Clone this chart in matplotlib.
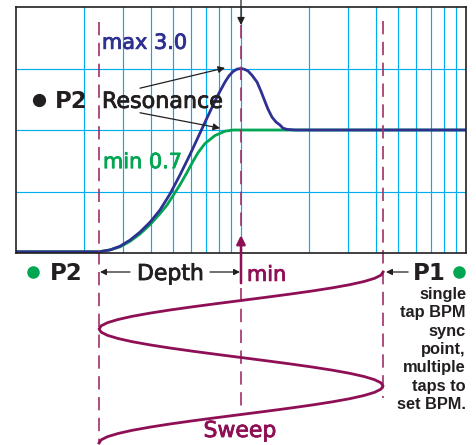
import matplotlib
matplotlib.use("Agg")
import matplotlib.pyplot as plt
import matplotlib.patheffects as pe
from matplotlib.ticker import NullLocator

# ---------------- data ----------------
# filter response curves (x = frequency on log axis, y = level)
green_x = [1.0, 2.338, 2.617, 2.899, 3.212, 3.557, 3.940, 4.365, 4.690, 4.986,
           5.357, 5.754, 6.118, 6.439, 6.918, 7.663, 8.489, 9.214, 10.0, 100.0]
green_y = [0.02, 0.02, 0.05, 0.10, 0.19, 0.31, 0.46, 0.64, 0.78, 0.93,
           1.11, 1.31, 1.49, 1.63, 1.78, 1.91, 1.98, 2.0, 2.0, 2.0]

blue_x = [1.0, 2.338, 2.617, 2.899, 3.212, 3.557, 3.940, 4.365, 4.836, 5.357,
          5.934, 6.572, 7.282, 7.903, 8.489, 8.845, 9.214, 9.60, 10.0, 10.31,
          10.74, 11.19, 11.78, 12.27, 12.79, 13.18, 13.73, 14.31, 14.91, 15.37,
          16.01, 17.38, 100.0]
blue_y = [0.02, 0.02, 0.05, 0.11, 0.21, 0.34, 0.50, 0.70, 0.96, 1.27,
          1.60, 1.95, 2.30, 2.57, 2.78, 2.88, 2.95, 2.99, 3.0, 2.99,
          2.96, 2.89, 2.78, 2.63, 2.46, 2.34, 2.21, 2.13, 2.08, 2.03,
          2.01, 2.0, 2.0]

# LFO sweep (phase in degrees going down, frequency across)
sweep_phase = [0, 10, 20, 30, 40, 50, 60, 70, 80, 90, 100, 110, 120, 130, 140,
               150, 160, 170, 180, 190, 200, 210, 220, 230, 240, 250, 260, 270,
               280, 290, 300, 310, 320, 330, 340, 350, 360, 370, 380, 390, 400,
               410, 420, 430, 440, 450, 460, 470, 480, 490, 500, 510, 520, 530, 540]
sweep_freq = [42.8, 41.88, 39.22, 35.23, 30.46, 25.46, 20.69, 16.44, 12.87, 10.0,
              7.77, 6.08, 4.83, 3.93, 3.28, 2.84, 2.55, 2.39, 2.34, 2.39,
              2.55, 2.84, 3.28, 3.93, 4.83, 6.08, 7.77, 10.0, 12.87, 16.44,
              20.69, 25.46, 30.46, 35.23, 39.22, 41.88, 42.8, 41.88, 39.22, 35.23,
              30.46, 25.46, 20.69, 16.44, 12.87, 10.0, 7.77, 6.08, 4.83, 3.93,
              3.28, 2.84, 2.55, 2.39, 2.34]

depth_start = 2.338   # P2 depth edge
sweep_min = 10.0      # min
p1_point = 42.8       # P1

grid_x = [2, 3, 4, 5, 6, 7, 8, 9, 10, 20, 30, 40, 50, 60, 70, 80, 90]
grid_y = [1, 2, 3]

right_lines = ["single", "tap BPM", "sync", "point,", "multiple", "taps to", "set BPM."]

# ---------------- style ----------------
DARK = "#231F20"
BLUE = "#2E3192"
GREEN = "#00A651"
MAROON = "#8E0F55"
DASH = "#A0306A"
GRID = "#00AEEF"
FONT = "DejaVu Sans"


def heavy(color):
    return [pe.withStroke(linewidth=0.6, foreground=color)]


W, H = 476, 445
fig = plt.figure(figsize=(W / 100, H / 100), dpi=100)
ax = fig.add_axes([16 / W, (H - 253) / H, 450 / W, 246 / H])
ax2 = fig.add_axes([16 / W, 0, 450 / W, 192 / H])

# main panel
ax.set_xscale("log")
ax.set_xlim(1, 100)
ax.set_ylim(0, 4)
ax.xaxis.set_minor_locator(NullLocator())
ax.set_xticks(grid_x)
ax.set_yticks(grid_y)
ax.tick_params(length=0, labelbottom=False, labelleft=False)
ax.grid(True, color=GRID, lw=0.85, zorder=0)
ax.set_axisbelow(True)
for s in ax.spines.values():
    s.set_color(DARK)
    s.set_linewidth(1.2)
    s.set_zorder(6)

ax.plot(green_x, green_y, color=GREEN, lw=2.0, zorder=3, solid_capstyle="butt",
        solid_joinstyle="round")
ax.plot(blue_x, blue_y, color=BLUE, lw=2.0, zorder=4, solid_capstyle="butt",
        solid_joinstyle="round")

# dashed marker lines (extend below the panel)
dkw = dict(color=DASH, lw=1.2, dashes=(8, 4.5), clip_on=False, zorder=5)
ax.plot([depth_start, depth_start], [3.756, -3.07], **dkw)
ax.plot([sweep_min, sweep_min], [3.707, 0.35], **dkw)
ax.plot([sweep_min, sweep_min], [-0.57, -2.51], **dkw)
ax.plot([p1_point, p1_point], [3.77, -2.36], **dkw)

# top black arrow
ax.annotate("", xy=(sweep_min, 3.707), xytext=(sweep_min, 4.14),
            arrowprops=dict(arrowstyle="-|>", color=DARK, lw=0.9,
                            mutation_scale=11, shrinkA=0, shrinkB=0),
            annotation_clip=False, zorder=7)
# maroon up arrow (min)
ax.annotate("", xy=(sweep_min, 0.29), xytext=(sweep_min, -0.49),
            arrowprops=dict(arrowstyle="-|>", color=MAROON, lw=1.8,
                            mutation_scale=13, shrinkA=0, shrinkB=0),
            annotation_clip=False, zorder=7)

# labels in panel
ax.text(2.41, 3.32, "max 3.0", color=BLUE, fontsize=15, family=FONT,
        va="baseline", ha="left", zorder=8, path_effects=heavy(BLUE))
ax.text(2.436, 1.38, "min 0.7", color=GREEN, fontsize=15, family=FONT,
        va="baseline", ha="left", zorder=8, path_effects=heavy(GREEN))
ax.plot([1.265], [2.49], "o", color=DARK, ms=8.5, zorder=8)
ax.text(1.49, 2.36, "P2", color=DARK, fontsize=16.5, family=FONT,
        fontweight="bold", va="baseline", ha="left", zorder=8)
ax.text(2.41, 2.36, "Resonance", color=DARK, fontsize=16, family=FONT,
        va="baseline", ha="left", zorder=8, path_effects=heavy(DARK))
akw = dict(arrowstyle="-|>", color=DARK, lw=0.9, mutation_scale=10,
           shrinkA=0, shrinkB=0)
ax.annotate("", xy=(8.49, 3.01), xytext=(3.557, 2.68), arrowprops=akw, zorder=8)
ax.annotate("", xy=(8.07, 2.03), xytext=(3.557, 2.28), arrowprops=akw, zorder=8)

# lower panel: sweep
ax2.set_xscale("log")
ax2.set_xlim(1, 100)
ax2.set_ylim(546.3, -60)
ax2.axis("off")
ax2.plot(sweep_freq, sweep_phase, color=MAROON, lw=2.0, clip_on=False, zorder=4,
         solid_joinstyle="round")

ax2.plot([1.19], [0], "o", color=GREEN, ms=8, clip_on=False)
ax2.text(1.416, 25.3, "P2", color=DARK, fontsize=16.5, family=FONT,
         fontweight="bold", va="baseline", ha="left")
ax2.annotate("", xy=(2.362, 0), xytext=(3.212, 0),
             arrowprops=dict(arrowstyle="-|>", color=DARK, lw=0.9,
                             mutation_scale=9, shrinkA=0, shrinkB=0))
ax2.text(3.45, 25.3, "Depth", color=DARK, fontsize=15.8, family=FONT,
         va="baseline", ha="left", path_effects=heavy(DARK))
ax2.annotate("", xy=(9.9, 0), xytext=(7.28, 0),
             arrowprops=dict(arrowstyle="-|>", color=DARK, lw=0.9,
                             mutation_scale=9, shrinkA=0, shrinkB=0))
ax2.text(10.63, 28, "min", color=MAROON, fontsize=15, family=FONT,
         va="baseline", ha="left", path_effects=heavy(MAROON))
ax2.annotate("", xy=(44.1, 0), xytext=(55.3, 0),
             arrowprops=dict(arrowstyle="-|>", color=DARK, lw=0.9,
                             mutation_scale=9, shrinkA=0, shrinkB=0))
ax2.text(58.1, 25.3, "P1", color=DARK, fontsize=16.5, family=FONT,
         fontweight="bold", va="baseline", ha="left")
ax2.plot([93.1], [0], "o", color=GREEN, ms=8, clip_on=False)

for i, line in enumerate(right_lines):
    ax2.text(100, 85.3 + 57.8 * i, line, color=DARK, fontsize=11.8,
             family="Liberation Sans", fontweight="bold",
             va="baseline", ha="right")

ax2.text(9.9, 521, "Sweep", color=MAROON, fontsize=15.8, family=FONT,
         va="baseline", ha="center", path_effects=heavy(MAROON))

fig.savefig("out.png", dpi=100)
